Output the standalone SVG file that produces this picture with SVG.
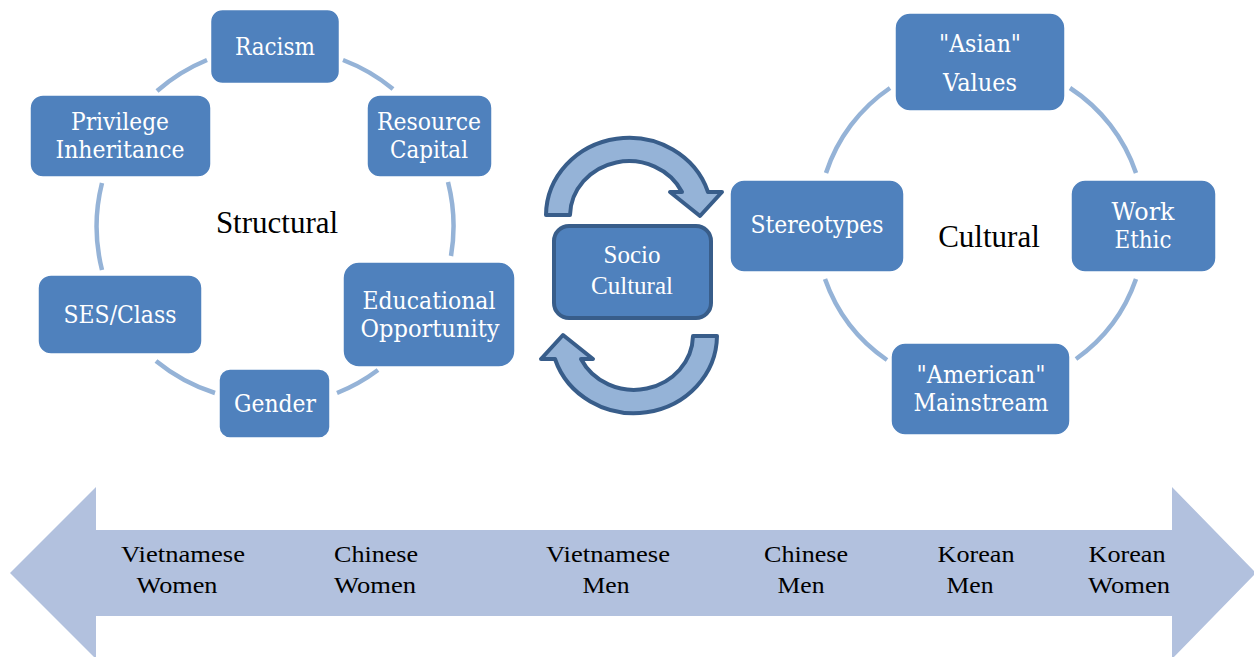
<svg xmlns="http://www.w3.org/2000/svg" width="1254" height="657" viewBox="0 0 1254 657">
<defs>
<style>
.box{fill:#4F81BD;stroke:#FFFFFF;stroke-width:1.5}
.bt{font-family:"DejaVu Serif","Liberation Serif",serif;font-size:24px;fill:#FFFFFF;text-anchor:middle}
.arc{fill:none;stroke:#95B3D7;stroke-width:4.5}
.lbl{font-family:"Liberation Serif","Times New Roman",serif;font-size:31px;fill:#000000;text-anchor:middle}
.bot{font-family:"Liberation Serif","Times New Roman",serif;font-size:24px;fill:#000000;text-anchor:middle}
.carrow{fill:#95B3D7;stroke:#385D8A;stroke-width:4;stroke-linejoin:round}
.sc{fill:#4F81BD;stroke:#385D8A;stroke-width:4}
.sct{font-family:"Liberation Serif","Times New Roman",serif;font-size:25px;fill:#FFFFFF;text-anchor:middle}
</style>
</defs>
<rect width="1254" height="657" fill="#FFFFFF"/>

<g id="spectrum">
<polygon points="10,573 96,487 96,530 1172,530 1172,487 1256,573 1172,659 1172,616 96,616 96,659" fill="#B2C1DE"/>
<text class="bot" x="183" y="562" textLength="124" lengthAdjust="spacingAndGlyphs">Vietnamese</text>
<text class="bot" x="177" y="593" textLength="81" lengthAdjust="spacingAndGlyphs">Women</text>
<text class="bot" x="376" y="562" textLength="84" lengthAdjust="spacingAndGlyphs">Chinese</text>
<text class="bot" x="375" y="593" textLength="82" lengthAdjust="spacingAndGlyphs">Women</text>
<text class="bot" x="608" y="562" textLength="124" lengthAdjust="spacingAndGlyphs">Vietnamese</text>
<text class="bot" x="606" y="593" textLength="47" lengthAdjust="spacingAndGlyphs">Men</text>
<text class="bot" x="806" y="562" textLength="84" lengthAdjust="spacingAndGlyphs">Chinese</text>
<text class="bot" x="801" y="593" textLength="47" lengthAdjust="spacingAndGlyphs">Men</text>
<text class="bot" x="976" y="562" textLength="77" lengthAdjust="spacingAndGlyphs">Korean</text>
<text class="bot" x="970" y="593" textLength="47" lengthAdjust="spacingAndGlyphs">Men</text>
<text class="bot" x="1127" y="562" textLength="77" lengthAdjust="spacingAndGlyphs">Korean</text>
<text class="bot" x="1129" y="593" textLength="82" lengthAdjust="spacingAndGlyphs">Women</text>
</g>

<g id="connectors">
<path class="arc" d="M 343 60 A 178.5 178.5 0 0 1 393 89"/>
<path class="arc" d="M 448 182 A 178.5 178.5 0 0 1 451 256"/>
<path class="arc" d="M 378 370 A 178.5 178.5 0 0 1 337 393"/>
<path class="arc" d="M 215 393 A 178.5 178.5 0 0 1 156 361"/>
<path class="arc" d="M 102 270 A 178.5 178.5 0 0 1 102 183"/>
<path class="arc" d="M 157 91 A 178.5 178.5 0 0 1 207 60"/>
<path class="arc" d="M 1070 88 A 164 164 0 0 1 1136 173"/>
<path class="arc" d="M 1136 279 A 164 164 0 0 1 1076 359"/>
<path class="arc" d="M 887 360 A 164 164 0 0 1 825 279"/>
<path class="arc" d="M 826 173 A 164 164 0 0 1 890 88"/>
<path id="cycle-top" class="carrow" d="M 546 215 A 83 78 0 0 1 708 192 L 722 192 L 700 216 L 670 192 L 682 192 A 59 55 0 0 0 570 215 Z"/>
<path id="cycle-bottom" class="carrow" transform="rotate(180 631.5 275.5)" d="M 546 215 A 83 78 0 0 1 708 192 L 722 192 L 700 216 L 670 192 L 682 192 A 59 55 0 0 0 570 215 Z"/>
</g>

<text id="structural" class="lbl" x="277" y="233">Structural</text>
<text id="cultural" class="lbl" x="989" y="247">Cultural</text>

<g id="racism">
<rect class="box" x="210.5" y="9.5" width="129" height="74" rx="12"/>
<text class="bt" x="275" y="55" textLength="80" lengthAdjust="spacingAndGlyphs">Racism</text>
</g>
<g id="privilege">
<rect class="box" x="30" y="95" width="181" height="82" rx="13"/>
<text class="bt" x="120" y="130" textLength="98" lengthAdjust="spacingAndGlyphs">Privilege</text>
<text class="bt" x="120" y="158" textLength="129" lengthAdjust="spacingAndGlyphs">Inheritance</text>
</g>
<g id="resource">
<rect class="box" x="367" y="95" width="125" height="82" rx="13"/>
<text class="bt" x="429" y="130" textLength="104" lengthAdjust="spacingAndGlyphs">Resource</text>
<text class="bt" x="429" y="158" textLength="78" lengthAdjust="spacingAndGlyphs">Capital</text>
</g>
<g id="ses">
<rect class="box" x="38" y="275" width="164" height="79" rx="13"/>
<text class="bt" x="120" y="323" textLength="113" lengthAdjust="spacingAndGlyphs">SES/Class</text>
</g>
<g id="educational">
<rect class="box" x="343" y="262" width="172" height="105" rx="16"/>
<text class="bt" x="429" y="309" textLength="133" lengthAdjust="spacingAndGlyphs">Educational</text>
<text class="bt" x="430" y="337" textLength="139" lengthAdjust="spacingAndGlyphs">Opportunity</text>
</g>
<g id="gender">
<rect class="box" x="219" y="369" width="111" height="69" rx="11"/>
<text class="bt" x="275" y="412" textLength="82" lengthAdjust="spacingAndGlyphs">Gender</text>
</g>

<g id="socio-cultural">
<rect class="sc" x="554" y="226" width="157" height="92" rx="15"/>
<text class="sct" x="632" y="263">Socio</text>
<text class="sct" x="632" y="294">Cultural</text>
</g>

<g id="asian-values">
<rect class="box" x="895" y="13" width="170" height="98" rx="15"/>
<text class="bt" x="980" y="52" textLength="82" lengthAdjust="spacingAndGlyphs">"Asian"</text>
<text class="bt" x="980" y="91" textLength="74" lengthAdjust="spacingAndGlyphs">Values</text>
</g>
<g id="stereotypes">
<rect class="box" x="730" y="180" width="174" height="92" rx="14"/>
<text class="bt" x="817" y="233" textLength="133" lengthAdjust="spacingAndGlyphs">Stereotypes</text>
</g>
<g id="work-ethic">
<rect class="box" x="1071" y="180" width="145" height="92" rx="14"/>
<text class="bt" x="1143" y="220" textLength="63" lengthAdjust="spacingAndGlyphs">Work</text>
<text class="bt" x="1143" y="248" textLength="57" lengthAdjust="spacingAndGlyphs">Ethic</text>
</g>
<g id="american-mainstream">
<rect class="box" x="891" y="343" width="179" height="92" rx="14"/>
<text class="bt" x="981" y="383" textLength="129" lengthAdjust="spacingAndGlyphs">"American"</text>
<text class="bt" x="981" y="411" textLength="135" lengthAdjust="spacingAndGlyphs">Mainstream</text>
</g>
</svg>
